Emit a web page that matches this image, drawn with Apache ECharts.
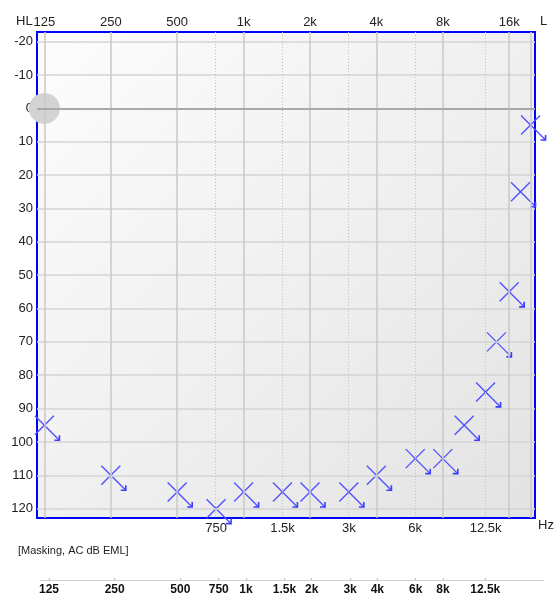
<!DOCTYPE html>
<html>
<head>
<meta charset="utf-8">
<script src="https://cdn.jsdelivr.net/npm/echarts@6/dist/echarts.min.js"></script>
<style>
html,body{margin:0;padding:0;background:#fff;}
#chart{width:556px;height:596px;}
</style>
</head>
<body>
<div id="chart"></div>
<script>
// ---- data ----
const octaveFreqs = [125, 250, 500, 1000, 2000, 4000, 8000, 16000];
const octaveLabels = ['125', '250', '500', '1k', '2k', '4k', '8k', '16k'];
const midFreqs = [750, 1500, 3000, 6000, 12500];
const midLabels = ['750', '1.5k', '3k', '6k', '12.5k'];
const extraLineFreqs = [20000];
const dbTicks = [-20, -10, 0, 10, 20, 30, 40, 50, 60, 70, 80, 90, 100, 110, 120];
const maskFreqs = [125, 250, 500, 750, 1000, 1500, 2000, 3000, 4000, 6000, 8000, 10000, 12500, 14000, 16000, 18000, 20000];
const maskDb = [95, 110, 115, 120, 115, 115, 115, 115, 110, 105, 105, 95, 85, 70, 55, 25, 5];
const stripFreqs = [125, 250, 500, 750, 1000, 1500, 2000, 3000, 4000, 6000, 8000, 12500];
const stripLabels = ['125', '250', '500', '750', '1k', '1.5k', '2k', '3k', '4k', '6k', '8k', '12.5k'];

const oct = f => Math.log2(f / 125);
function labelFor(freqs, labels) {
  return function (v) {
    for (let i = 0; i < freqs.length; i++) {
      if (Math.abs(oct(freqs[i]) - v) < 1e-6) return labels[i];
    }
    return '';
  };
}

const FONT = 'Liberation Sans';
const chart = echarts.init(document.getElementById('chart'), null, { renderer: 'canvas' });

const gridLines = [];
dbTicks.forEach(v => {
  if (v === 0) return;
  gridLines.push({ yAxis: v, lineStyle: { color: '#d4d4d4', width: 1.5, type: 'solid' } });
});
octaveFreqs.concat(extraLineFreqs).forEach(f => {
  gridLines.push({ xAxis: oct(f), lineStyle: { color: '#c8c8c8', width: 1.5, type: 'solid' } });
});
midFreqs.forEach(f => {
  gridLines.push({ xAxis: oct(f), lineStyle: { color: '#c0c0c0', width: 1, type: [1, 2] } });
});
gridLines.push({ yAxis: 0, lineStyle: { color: '#a9a9a9', width: 2, type: 'solid' } });

const option = {
  animation: false,
  backgroundColor: '#ffffff',
  textStyle: { fontFamily: FONT },
  grid: [
    {
      left: 37, top: 32, width: 498, height: 486,
      show: true,
      borderColor: '#0000ff', borderWidth: 2,
      backgroundColor: {
        type: 'linear', x: 0, y: 0, x2: 1, y2: 1,
        colorStops: [{ offset: 0, color: '#fdfdfd' }, { offset: 1, color: '#e3e3e3' }]
      }
    },
    { left: 40, top: 570, width: 504, height: 10, show: false }
  ],
  xAxis: [
    {
      gridIndex: 0, type: 'value', position: 'top',
      min: -0.1114, max: 7.3886,
      axisLine: { show: false }, axisTick: { show: false }, splitLine: { show: false },
      axisLabel: {
        customValues: octaveFreqs.map(oct),
        formatter: labelFor(octaveFreqs, octaveLabels),
        color: '#222', fontSize: 13, fontFamily: FONT, margin: 3
      }
    },
    {
      gridIndex: 0, type: 'value', position: 'bottom',
      min: -0.1114, max: 7.3886,
      axisLine: { show: false }, axisTick: { show: false }, splitLine: { show: false },
      axisLabel: {
        customValues: midFreqs.map(oct),
        formatter: labelFor(midFreqs, midLabels),
        color: '#222', fontSize: 13, fontFamily: FONT, margin: 4
      }
    },
    {
      gridIndex: 1, type: 'value', position: 'bottom',
      min: -0.137, max: 7.538,
      axisLine: { show: true, onZero: false, lineStyle: { color: '#cfcfcf', width: 1 } },
      axisTick: { show: true, inside: true, length: 2, customValues: stripFreqs.map(oct), lineStyle: { color: '#bbbbbb' } },
      splitLine: { show: false },
      axisLabel: {
        customValues: stripFreqs.map(oct),
        formatter: labelFor(stripFreqs, stripLabels),
        color: '#111', fontSize: 12, fontWeight: 'bold', fontFamily: FONT, margin: 4
      }
    }
  ],
  yAxis: [
    {
      gridIndex: 0, type: 'value', inverse: true,
      min: -22.9, max: 122.8,
      axisLine: { show: false }, axisTick: { show: false }, splitLine: { show: false },
      axisLabel: {
        customValues: dbTicks,
        color: '#222', fontSize: 13, fontFamily: FONT, margin: 4
      }
    },
    {
      gridIndex: 1, type: 'value', min: 0, max: 1, show: false
    }
  ],
  graphic: [
    { type: 'text', left: 16, top: 15, style: { text: 'HL', font: '13px "Liberation Sans"', fill: '#222' } },
    { type: 'text', left: 540, top: 15, style: { text: 'L', font: '13px "Liberation Sans"', fill: '#222' } },
    { type: 'text', left: 538, top: 519, style: { text: 'Hz', font: '13px "Liberation Sans"', fill: '#222' } },
    { type: 'text', left: 18, top: 545, style: { text: '[Masking, AC dB EML]', font: '11px "Liberation Sans"', fill: '#222' } }
  ],
  series: [
    {
      type: 'line', xAxisIndex: 0, yAxisIndex: 0, data: [], z: 1, silent: true,
      markLine: { silent: true, symbol: 'none', label: { show: false }, animation: false, data: gridLines }
    },
    {
      type: 'custom', xAxisIndex: 0, yAxisIndex: 0, z: 3, clip: false,
      data: maskFreqs.map((f, i) => [oct(f), maskDb[i]]),
      renderItem: function (params, api) {
        const p = api.coord([api.value(0), api.value(1)]);
        const a = 9.5, b = 15, h = 5;
        const style = { stroke: '#5252ff', lineWidth: 1.4, fill: null };
        return {
          type: 'group',
          children: [
            { type: 'line', shape: { x1: p[0] - a, y1: p[1] - a, x2: p[0] + b, y2: p[1] + b }, style: style },
            { type: 'line', shape: { x1: p[0] - a, y1: p[1] + a, x2: p[0] + a, y2: p[1] - a }, style: style },
            { type: 'polyline', shape: { points: [[p[0] + b - h, p[1] + b], [p[0] + b, p[1] + b], [p[0] + b, p[1] + b - h]] }, style: { stroke: '#3c3cff', lineWidth: 1.6, fill: null } }
          ]
        };
      }
    },
    {
      type: 'scatter', xAxisIndex: 0, yAxisIndex: 0, z: 4, silent: true,
      symbol: 'circle', symbolSize: 31,
      itemStyle: { color: '#d3d3d3', opacity: 1 },
      data: [[0, 0]]
    }
  ]
};
chart.setOption(option);
</script>
</body>
</html>
